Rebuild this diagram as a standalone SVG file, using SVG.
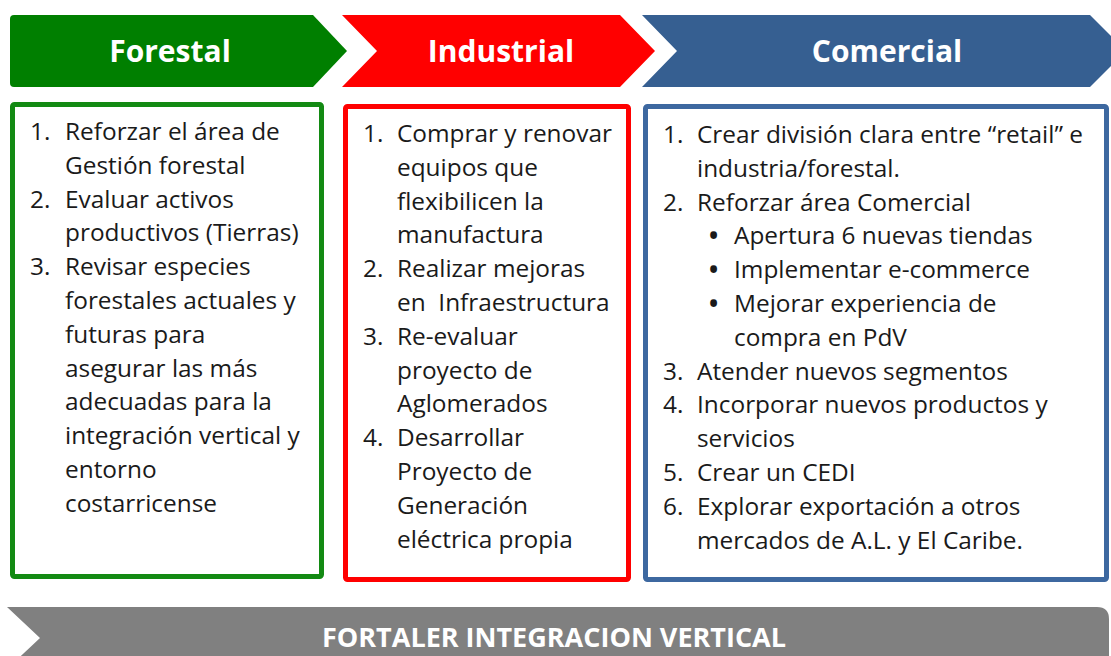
<svg xmlns="http://www.w3.org/2000/svg" width="1111" height="656" viewBox="0 0 1111 656">
<style>
.hdr{font-family:"Open Sans","Liberation Sans",sans-serif;font-weight:bold;font-size:30px;fill:#ffffff;text-anchor:middle}
.body{font-family:"Open Sans","Liberation Sans",sans-serif;font-size:24.4px;fill:#1a1a1a}
.bul{font-family:"Open Sans","Liberation Sans",sans-serif;font-size:24.4px;font-weight:bold;fill:#1a1a1a}
.box{fill:#ffffff;stroke-width:5}
.foot{font-family:"Open Sans","Liberation Sans",sans-serif;font-weight:bold;font-size:27px;fill:#ffffff;text-anchor:middle}
</style>
<rect width="1111" height="656" fill="#ffffff"/>
<g id="header-forestal">
<path d="M14,15 L313,15 L347,51 L313,87 L14,87 Q10,87 10,83 L10,19 Q10,15 14,15 Z" fill="#007f00"/>
<text class="hdr" x="170" y="62">Forestal</text>
</g>
<g id="header-industrial">
<path d="M342,15 L620,15 L655,51 L620,87 L342,87 L377,51 Z" fill="#ff0000"/>
<text class="hdr" x="501" y="62">Industrial</text>
</g>
<g id="header-comercial">
<path d="M642,15 L1090,15 L1126,51 L1090,87 L642,87 L677,51 Z" fill="#365f91"/>
<text class="hdr" x="887" y="62">Comercial</text>
</g>
<g id="box-forestal">
<rect class="box" x="12.5" y="104.5" width="309" height="472" rx="2" stroke="#138a13"/>
<g class="body">
<text x="30" y="140">1.</text><text x="65" y="140">Reforzar el área de</text>
<text x="65" y="173.8">Gestión forestal</text>
<text x="30" y="207.6">2.</text><text x="65" y="207.6">Evaluar activos</text>
<text x="65" y="241.4">productivos (Tierras)</text>
<text x="30" y="275.2">3.</text><text x="65" y="275.2">Revisar especies</text>
<text x="65" y="309">forestales actuales y</text>
<text x="65" y="342.8">futuras para</text>
<text x="65" y="376.6">asegurar las más</text>
<text x="65" y="410.4">adecuadas para la</text>
<text x="65" y="444.2">integración vertical y</text>
<text x="65" y="478">entorno</text>
<text x="65" y="511.8">costarricense</text>
</g>
</g>
<g id="box-industrial">
<rect class="box" x="345.5" y="106.5" width="283" height="473" rx="2" stroke="#ff0000"/>
<g class="body">
<text x="363" y="142">1.</text><text x="397" y="142">Comprar y renovar</text>
<text x="397" y="175.8">equipos que</text>
<text x="397" y="209.6">flexibilicen la</text>
<text x="397" y="243.4">manufactura</text>
<text x="363" y="277.2">2.</text><text x="397" y="277.2">Realizar mejoras</text>
<text x="397" y="311" xml:space="preserve">en  Infraestructura</text>
<text x="363" y="344.8">3.</text><text x="397" y="344.8">Re-evaluar</text>
<text x="397" y="378.6">proyecto de</text>
<text x="397" y="412.4">Aglomerados</text>
<text x="363" y="446.2">4.</text><text x="397" y="446.2">Desarrollar</text>
<text x="397" y="480">Proyecto de</text>
<text x="397" y="513.8">Generación</text>
<text x="397" y="547.6">eléctrica propia</text>
</g>
</g>
<g id="box-comercial">
<rect class="box" x="645.5" y="106.5" width="461" height="473" rx="2" stroke="#3d68a0"/>
<g class="body">
<text x="663" y="143">1.</text><text x="697" y="143">Crear división clara entre “retail” e</text>
<text x="697" y="176.8">industria/forestal.</text>
<text x="663" y="210.6">2.</text><text x="697" y="210.6">Reforzar área Comercial</text>
<text x="734" y="244.4">Apertura 6 nuevas tiendas</text>
<text x="734" y="278.2">Implementar e-commerce</text>
<text x="734" y="312">Mejorar experiencia de</text>
<text x="734" y="345.8">compra en PdV</text>
<text x="663" y="379.6">3.</text><text x="697" y="379.6">Atender nuevos segmentos</text>
<text x="663" y="413.4">4.</text><text x="697" y="413.4">Incorporar nuevos productos y</text>
<text x="697" y="447.2">servicios</text>
<text x="663" y="481">5.</text><text x="697" y="481">Crear un CEDI</text>
<text x="663" y="514.8">6.</text><text x="697" y="514.8">Explorar exportación a otros</text>
<text x="697" y="548.6">mercados de A.L. y El Caribe.</text>
</g>
<g class="bul">
<text x="709" y="244.4">•</text>
<text x="709" y="278.2">•</text>
<text x="709" y="312">•</text>
</g>
</g>
<g id="footer-integracion">
<path d="M7,607 L1097,607 Q1109,607 1109,619 L1109,660 L7,660 L7,669 L40,638 Z" fill="#808080"/>
<text class="foot" x="554" y="647">FORTALER INTEGRACION VERTICAL</text>
</g>
<g id="connectors"></g>
</svg>
